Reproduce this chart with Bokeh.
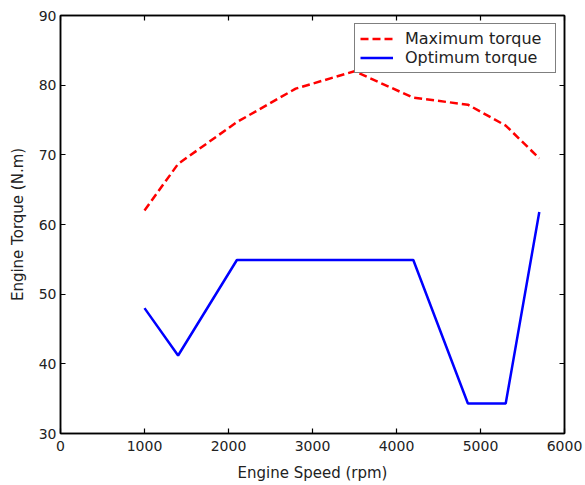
from bokeh.plotting import figure
from bokeh.models import Range1d, LinearAxis, Legend, LegendItem, FixedTicker
from bokeh.embed import file_html
from bokeh.resources import INLINE

speed = [1000, 1400, 2100, 2800, 3500, 4200, 4850, 5300, 5700]
max_torque = [62.0, 68.7, 74.7, 79.5, 82.0, 78.2, 77.2, 74.2, 69.5]
opt_torque = [48.0, 41.2, 54.9, 54.9, 54.9, 54.9, 34.3, 34.3, 61.8]
x_ticks = [0, 1000, 2000, 3000, 4000, 5000, 6000]
y_ticks = [30, 40, 50, 60, 70, 80, 90]

FONT = "DejaVu Sans"
TXT = "#222222"

p = figure(width=585, height=485, output_backend="svg", toolbar_location=None,
           x_range=Range1d(0, 6000), y_range=Range1d(30, 90),
           min_border_left=60, min_border_right=21, min_border_top=15, min_border_bottom=52)
p.xgrid.visible = False
p.ygrid.visible = False
p.outline_line_color = "black"
p.outline_line_width = 1.5
p.background_fill_color = "white"
p.border_fill_color = "white"

def style(ax, ticks, labels=True):
    ax.ticker = FixedTicker(ticks=ticks)
    ax.axis_line_color = "black"
    ax.axis_line_width = 1.5
    ax.major_tick_in = 5
    ax.major_tick_out = 0
    ax.major_tick_line_color = "black"
    ax.major_tick_line_width = 1.2
    ax.minor_tick_line_color = None
    if labels:
        ax.major_label_text_font = FONT
        ax.major_label_text_font_size = "14px"
        ax.major_label_text_color = TXT
        ax.axis_label_text_font = FONT
        ax.axis_label_text_font_size = "15px"
        ax.axis_label_text_font_style = "normal"
        ax.axis_label_text_color = TXT
    else:
        ax.major_label_overrides = {t: "" for t in ticks}
        ax.major_label_standoff = 0
        ax.major_label_text_font_size = "1px"

style(p.xaxis[0], x_ticks)
style(p.yaxis[0], y_ticks)
p.xaxis[0].axis_label = "Engine Speed (rpm)"
p.yaxis[0].axis_label = "Engine Torque (N.m)"
p.xaxis[0].major_label_standoff = 7
p.xaxis[0].axis_label_standoff = 10
p.yaxis[0].major_label_standoff = 4
p.yaxis[0].axis_label_standoff = 9

top = LinearAxis()
style(top, x_ticks, labels=False)
p.add_layout(top, "above")
right = LinearAxis()
style(right, y_ticks, labels=False)
p.add_layout(right, "right")

r1 = p.line(speed, max_torque, line_color="red", line_width=2.5, line_dash="8 4")
r2 = p.line(speed, opt_torque, line_color="blue", line_width=2.5)

legend = Legend(items=[LegendItem(label="Maximum torque", renderers=[r1]),
                       LegendItem(label="Optimum torque", renderers=[r2])],
                location="top_right")
legend.margin = 8
legend.padding = 5
legend.spacing = 0
legend.label_height = 19
legend.glyph_height = 19
legend.glyph_width = 33
legend.label_width = 145
legend.label_standoff = 12
legend.label_text_font = FONT
legend.label_text_font_size = "16px"
legend.label_text_color = TXT
legend.border_line_color = "black"
legend.border_line_width = 1.2
legend.background_fill_alpha = 1.0
p.add_layout(legend)

open("out.html", "w").write(file_html(p, INLINE))
